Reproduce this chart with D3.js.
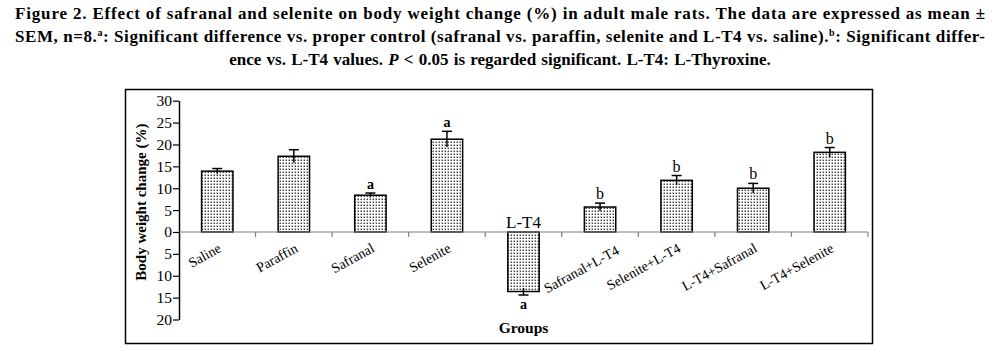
<!DOCTYPE html>
<html>
<head>
<meta charset="utf-8">
<script src="https://cdn.jsdelivr.net/npm/d3@7"></script>
<style>
  body { margin: 0; background: #fff; }
  svg { display: block; }
</style>
</head>
<body>
<div id="chart"></div>
<script>
const groups = ['Saline', 'Paraffin', 'Safranal', 'Selenite', 'L-T4', 'Safranal+L-T4', 'Selenite+L-T4', 'L-T4+Safranal', 'L-T4+Selenite']
const means = [13.9, 17.3, 8.4, 21.2, -13.6, 5.7, 11.8, 10.0, 18.2]
const sems = [0.6, 1.5, 0.5, 1.8, 0.8, 0.9, 1.1, 1.1, 1.1]
const sigLetters = ['', '', 'a', 'a', 'a', 'b', 'b', 'b', 'b']
const yTicks = [-20, -15, -10, -5, 0, 5, 10, 15, 20, 25, 30]

const W = 1000, H = 353
const serif = '"Liberation Serif", "DejaVu Serif", serif'

const svg = d3.select('#chart').append('svg')
    .attr('width', W)
    .attr('height', H)
    .style('font-family', serif)

// dotted fill like the original print
const defs = svg.append('defs')
const pat = defs.append('pattern')
    .attr('id', 'dots')
    .attr('patternUnits', 'userSpaceOnUse')
    .attr('width', 3).attr('height', 3)
pat.append('rect').attr('width', 3).attr('height', 3).attr('fill', '#fff')
pat.append('rect').attr('x', 0.6).attr('y', 0.6).attr('width', 1.3).attr('height', 1.3).attr('fill', '#111')

// caption
const cap = svg.append('g')
    .attr('font-weight', 'bold')
    .attr('font-size', 17)
    .attr('fill', '#000')

cap.append('text')
    .attr('x', 15).attr('y', 19)
    .attr('textLength', 970).attr('lengthAdjust', 'spacing')
    .text('Figure 2. Effect of safranal and selenite on body weight change (%) in adult male rats. The data are expressed as mean ±')

const l2 = cap.append('text')
    .attr('x', 15).attr('y', 42)
    .attr('textLength', 970).attr('lengthAdjust', 'spacing')
l2.append('tspan').text('SEM, n=8.')
l2.append('tspan').attr('font-size', 10).attr('dy', -6).text('a')
l2.append('tspan').attr('dy', 6).text(': Significant difference vs. proper control (safranal vs. paraffin, selenite and L-T4 vs. saline).')
l2.append('tspan').attr('font-size', 10).attr('dy', -6).text('b')
l2.append('tspan').attr('dy', 6).text(': Significant differ-')

const l3 = cap.append('text')
    .attr('x', 500).attr('y', 65)
    .attr('text-anchor', 'middle')
    .attr('word-spacing', 1)
l3.append('tspan').text('ence vs. L-T4 values. ')
l3.append('tspan').attr('font-style', 'italic').text('P')
l3.append('tspan').text(' < 0.05 is regarded significant. L-T4: L-Thyroxine.')

// frame
svg.append('rect')
    .attr('x', 125.5).attr('y', 89.5)
    .attr('width', 747).attr('height', 254)
    .attr('fill', 'none')
    .attr('stroke', '#000')
    .attr('stroke-width', 1.5)

const x = d3.scaleBand()
    .domain(groups)
    .range([179, 868])
    .padding(0)

const y = d3.scaleLinear()
    .domain([-20, 30])
    .range([319.5, 100.7])

const barW = x.bandwidth() * 0.41

// y axis
const yAxis = svg.append('g')
    .attr('transform', 'translate(179,0)')
    .call(d3.axisLeft(y).tickValues(yTicks).tickSize(6).tickSizeOuter(0).tickPadding(1)
        .tickFormat(d => Math.abs(d)))
yAxis.select('.domain').attr('stroke', '#000').attr('stroke-width', 1.5)
yAxis.selectAll('.tick line').attr('stroke', '#000').attr('stroke-width', 1.2)
yAxis.selectAll('.tick text')
    .attr('font-family', serif)
    .attr('font-size', 15.5)
    .attr('fill', '#000')

// bars
svg.append('g').selectAll('rect')
    .data(groups)
    .join('rect')
    .attr('x', d => x(d) + (x.bandwidth() - barW) / 2)
    .attr('y', (d, i) => y(Math.max(0, means[i])))
    .attr('width', barW)
    .attr('height', (d, i) => Math.abs(y(means[i]) - y(0)))
    .attr('fill', 'url(#dots)')
    .attr('stroke', '#000')
    .attr('stroke-width', 1.5)

// zero line with group ticks
const zero = svg.append('g').attr('stroke', '#808080').attr('stroke-width', 1.2)
zero.append('line')
    .attr('x1', x.range()[0]).attr('x2', x.range()[1])
    .attr('y1', y(0)).attr('y2', y(0))
const bounds = groups.slice(1).map(g => x(g)).concat([x.range()[1]])
zero.selectAll('.gt')
    .data(bounds)
    .join('line')
    .attr('class', 'gt')
    .attr('x1', d => d).attr('x2', d => d)
    .attr('y1', y(0)).attr('y2', y(0) + 5)

// error bars
const eb = svg.append('g').attr('stroke', '#000').attr('stroke-width', 1.5)
groups.forEach((g, i) => {
    const cx = x(g) + x.bandwidth() / 2
    const lo = y(means[i] - sems[i]), hi = y(means[i] + sems[i])
    eb.append('line').attr('x1', cx).attr('x2', cx).attr('y1', lo).attr('y2', hi)
    const capY = means[i] >= 0 ? hi : lo
    eb.append('line').attr('x1', cx - 5).attr('x2', cx + 5).attr('y1', capY).attr('y2', capY)
})

// significance letters
svg.append('g').selectAll('text')
    .data(groups)
    .join('text')
    .attr('x', d => x(d) + x.bandwidth() / 2)
    .attr('y', (d, i) => means[i] >= 0 ? y(means[i] + sems[i]) - 4 : y(means[i] - sems[i]) + 14)
    .attr('text-anchor', 'middle')
    .attr('font-size', (d, i) => sigLetters[i] === 'a' ? 14 : 16)
    .attr('font-weight', (d, i) => sigLetters[i] === 'a' ? 'bold' : 'normal')
    .text((d, i) => sigLetters[i])

// group labels (label right after the negative bar is nudged right to clear it)
const lbl = svg.append('g').attr('font-size', 14).attr('fill', '#000')
groups.forEach((g, i) => {
    const cx = x(g) + x.bandwidth() / 2
    if (means[i] < 0) {
        lbl.append('text')
            .attr('x', cx).attr('y', y(0) - 4)
            .attr('text-anchor', 'middle')
            .attr('font-size', 17)
            .text(g)
    } else {
        const nudge = i > 0 && means[i - 1] < 0 ? 15 : 0
        lbl.append('text')
            .attr('text-anchor', 'end')
            .attr('transform', `translate(${cx + 5 + nudge},${y(0) + 19 + nudge * 0.15}) rotate(-29)`)
            .text(g)
    }
})

// axis titles
svg.append('text')
    .attr('transform', `translate(146,${(y(30) + y(-20)) / 2 - 8}) rotate(-90)`)
    .attr('text-anchor', 'middle')
    .attr('font-weight', 'bold')
    .attr('font-size', 15)
    .text('Body weight change (%)')

svg.append('text')
    .attr('x', x(groups[4]) + x.bandwidth() / 2)
    .attr('y', 333)
    .attr('text-anchor', 'middle')
    .attr('font-weight', 'bold')
    .attr('font-size', 15.5)
    .text('Groups')
</script>
</body>
</html>
